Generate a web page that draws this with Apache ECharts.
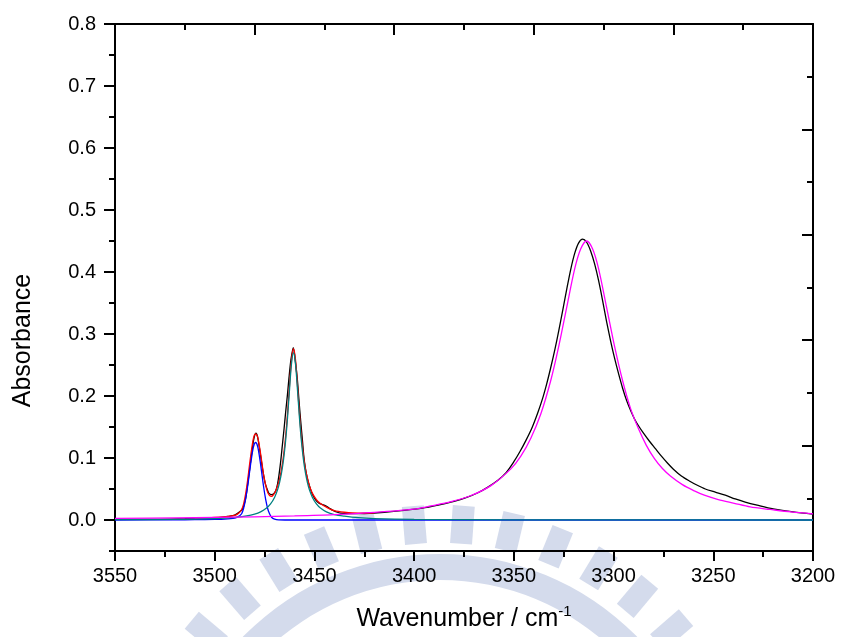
<!DOCTYPE html>
<html>
<head>
<meta charset="utf-8">
<script src="https://cdn.jsdelivr.net/npm/echarts@6/dist/echarts.min.js"></script>
<style>
  html, body { margin: 0; padding: 0; background: #fff; }
  #chart { width: 841px; height: 637px; }
</style>
</head>
<body>
<div id="chart"></div>
<script>
// measured spectrum (black)
const blackWn = [3550, 3530, 3515, 3505, 3497, 3493, 3490, 3488, 3486, 3484.5, 3483.5, 3482, 3481, 3480.3, 3479.3,
  3478.5, 3477.8, 3477, 3476.1, 3475.3, 3474.5, 3473.5, 3472.8, 3471.5, 3470.5, 3469.4, 3468.5, 3467.8, 3466.9,
  3466.1, 3465.2, 3464.4, 3463.5, 3462.8, 3461.8, 3460.6, 3459.6, 3458.6, 3457.8, 3456.9, 3456, 3455.3, 3454.5,
  3453.6, 3452.3, 3451.1, 3449.5, 3447.7, 3446, 3444.4, 3442.5, 3441, 3439, 3436.9, 3430, 3425, 3415, 3405, 3396,
  3388, 3380, 3374, 3368, 3363, 3358, 3354, 3350, 3347, 3344, 3341, 3338, 3335.5, 3333.5, 3331.5, 3329.5, 3327.5,
  3325.5, 3323.5, 3321.5, 3319.5, 3317.5, 3315.5, 3313.5, 3311.5, 3309.5, 3307.5, 3305.5, 3303.5, 3301.5, 3299.5,
  3297.5, 3295.5, 3293.5, 3291.5, 3289.5, 3287.5, 3285, 3282, 3279, 3276, 3273, 3270, 3266, 3262, 3258, 3254,
  3249, 3244, 3239, 3234, 3228, 3220, 3210, 3200]
const blackAbs = [0.001, 0.001, 0.002, 0.003, 0.004, 0.006, 0.008, 0.012, 0.018, 0.035, 0.057, 0.094, 0.118, 0.132, 0.140,
  0.134, 0.121, 0.104, 0.084, 0.069, 0.057, 0.048, 0.043, 0.041, 0.042, 0.047, 0.058, 0.072, 0.095,
  0.120, 0.148, 0.175, 0.203, 0.228, 0.258, 0.278, 0.257, 0.228, 0.195, 0.160, 0.128, 0.102, 0.083,
  0.068, 0.053, 0.042, 0.033, 0.027, 0.025, 0.023, 0.019, 0.016, 0.013, 0.011, 0.0102, 0.0105, 0.0125, 0.0155, 0.019,
  0.024, 0.030, 0.036, 0.044, 0.053, 0.064, 0.076, 0.094, 0.110, 0.128, 0.148, 0.173, 0.197, 0.220, 0.246, 0.274, 0.305,
  0.338, 0.372, 0.404, 0.430, 0.447, 0.453, 0.448, 0.434, 0.413, 0.386, 0.354, 0.320, 0.289, 0.261,
  0.236, 0.213, 0.193, 0.177, 0.163, 0.152, 0.140, 0.127, 0.115, 0.103, 0.092, 0.082, 0.071, 0.063, 0.056, 0.050,
  0.045, 0.040, 0.034, 0.029, 0.024, 0.018, 0.013, 0.0096]

// cumulative fit (red)
const fitWn = [3510, 3500, 3494, 3490, 3488, 3486.5, 3485.5, 3484.5, 3483.5, 3482.5, 3481.5, 3480.5, 3479.5, 3478.5,
  3477.5, 3476.5, 3475.5, 3474.5, 3473.5, 3472.5, 3471.5, 3470.5, 3469.5, 3468.5, 3467.5, 3466.5, 3465.5, 3464.5,
  3463.5, 3462.5, 3461.5, 3460.5, 3459.5, 3458.5, 3457.5, 3456.5, 3455.5, 3454.5, 3453.5, 3452.5, 3451, 3449,
  3447, 3444, 3440, 3435, 3428, 3420]
const fitAbs = [0.003, 0.004, 0.0055, 0.0075, 0.011, 0.017, 0.026, 0.042, 0.064, 0.090, 0.114, 0.133, 0.139, 0.134,
  0.117, 0.096, 0.073, 0.057, 0.045, 0.0395, 0.038, 0.041, 0.0465, 0.055, 0.066, 0.082, 0.1035, 0.133,
  0.171, 0.217, 0.258, 0.2765, 0.2587, 0.217, 0.171, 0.133, 0.104, 0.082, 0.067, 0.055, 0.043, 0.033,
  0.0265, 0.0207, 0.015, 0.0125, 0.011, 0.0115]

// component at ~3479 (blue)
const peak1Wn = [3550, 3520, 3510, 3500, 3495, 3490, 3488.5, 3487.5, 3486.5, 3485.5, 3484.5, 3483.5, 3482.5, 3481.5,
  3480.5, 3479.5, 3478.5, 3477.5, 3476.5, 3475.5, 3474.5, 3473.5, 3472.5, 3471.5, 3470, 3468, 3460, 3400, 3300, 3200]
const peak1Abs = [0, 0.0003, 0.0005, 0.001, 0.0015, 0.003, 0.005, 0.007, 0.010, 0.019, 0.034, 0.054, 0.078, 0.101,
  0.119, 0.125, 0.119, 0.101, 0.078, 0.054, 0.034, 0.019, 0.010, 0.0045, 0.0015, 0.0003, 0, 0, 0, 0]

// component at ~3461 (teal)
const peak2Wn = [3550, 3520, 3500, 3490, 3484, 3480, 3477, 3474, 3472, 3470, 3468.5, 3467.5, 3466.5, 3465.5, 3464.5,
  3463.5, 3462.5, 3461.5, 3460.5, 3459.5, 3458.5, 3457.5, 3456.5, 3455.5, 3454.5, 3453.5, 3452.5, 3451, 3449, 3447,
  3444, 3440, 3435, 3428, 3420, 3400, 3350, 3300, 3200]
const peak2Abs = [0.0005, 0.0011, 0.0024, 0.0043, 0.0068, 0.0096, 0.0132, 0.0193, 0.026, 0.0364, 0.0486, 0.0603, 0.0758, 0.0972, 0.1263,
  0.1646, 0.2103, 0.252, 0.270, 0.252, 0.2103, 0.1646, 0.1263, 0.0972, 0.0758, 0.0603, 0.0486, 0.0364, 0.026, 0.0193,
  0.0132, 0.0088, 0.0062, 0.0037, 0.0023, 0.0010, 0.0003, 0.0001, 0]

// broad component at ~3313 (magenta)
const peak3Wn = [3550, 3520, 3500, 3480, 3460, 3440, 3420, 3400, 3391.5, 3381.5, 3371.5, 3361.5, 3351.5, 3346.5,
  3341.5, 3336.5, 3331.5, 3327.5, 3323.5, 3319.5, 3316.5, 3313.5, 3310.5, 3307.5, 3303.5, 3299.5, 3295.5, 3291.5,
  3287.5, 3283.5, 3279.5, 3275.5, 3271.5, 3265.5, 3259.5, 3254.5, 3247.5, 3239.5, 3231.5, 3221.5, 3211, 3200]
const peak3Abs = [0.0026, 0.0033, 0.0041, 0.0051, 0.0066, 0.0087, 0.0122, 0.0175, 0.0227, 0.0295, 0.0395, 0.0555, 0.0825, 0.103,
  0.132, 0.171, 0.225, 0.280, 0.343, 0.405, 0.437, 0.450, 0.437, 0.405, 0.343, 0.280, 0.225, 0.180,
  0.147, 0.120, 0.099, 0.083, 0.071, 0.057, 0.047, 0.040, 0.033, 0.027, 0.021, 0.017, 0.013, 0.0098]

const yMajorTicks = [0, 0.1, 0.2, 0.3, 0.4, 0.5, 0.6, 0.7, 0.8]

const FONT = '"Liberation Sans", Arial, sans-serif'
const pairs = (xs, ys) => xs.map((x, i) => [x, ys[i]])

// faint background watermark (part of a round seal behind the bottom of the plot)
const WM = '#d4dbec'
const wmCx = 440, wmCy = 830
const wmTeeth = [-49.8, -40.8, -31.8, -22.8, -13.8, -4.8, 4.2, 13.2, 22.2, 31.2, 40.2, 49.2]
const tooth = (deg) => {
  const a = deg * Math.PI / 180
  const dx = Math.sin(a), dy = -Math.cos(a), px = Math.cos(a), py = Math.sin(a)
  const r1 = 287, r2 = 325, w = 11
  const pt = (r, s) => [wmCx + dx * r + px * s, wmCy + dy * r + py * s]
  return {
    type: 'polygon', silent: true, z: -10,
    shape: { points: [pt(r1, -w), pt(r2, -w), pt(r2, w), pt(r1, w)] },
    style: { fill: WM },
  }
}
const watermark = [
  { type: 'ring', silent: true, z: -10, shape: { cx: wmCx, cy: wmCy, r: 276, r0: 250 }, style: { fill: WM } },
  ...wmTeeth.map(tooth),
]

const chart = echarts.init(document.getElementById('chart'))

const axisLine = { show: true, onZero: false, lineStyle: { color: '#000', width: 2 } }

const mkSeries = (name, xs, ys, color) => ({
  name,
  type: 'line',
  data: pairs(xs, ys),
  xAxisIndex: 0,
  yAxisIndex: 0,
  symbol: 'none',
  smooth: 0.3,
  lineStyle: { color, width: 1.3 },
  itemStyle: { color },
  emphasis: { disabled: true },
})

chart.setOption({
  animation: false,
  backgroundColor: '#fff',
  graphic: watermark,
  grid: { left: 115, right: 28, top: 24, bottom: 84 },
  xAxis: [
    {
      type: 'value',
      position: 'bottom',
      min: 3200,
      max: 3550,
      interval: 50,
      inverse: true,
      name: 'Wavenumber / cm{sup|-1}',
      nameLocation: 'middle',
      nameGap: 53,
      nameTextStyle: {
        fontFamily: FONT, fontSize: 25, color: '#000',
        rich: { sup: { fontFamily: FONT, fontSize: 15, color: '#000', padding: [0, 0, 16, 0] } },
      },
      axisLine,
      axisTick: { show: true, inside: false, length: 10, lineStyle: { color: '#000', width: 2 } },
      minorTick: { show: true, splitNumber: 2, length: 6, lineStyle: { color: '#000', width: 2 } },
      axisLabel: { fontFamily: FONT, fontSize: 20, color: '#000', margin: 15, formatter: (v) => String(v) },
      splitLine: { show: false },
    },
    {
      type: 'value',
      position: 'top',
      min: 0,
      max: 5,
      interval: 1,
      axisLine,
      axisTick: { show: true, inside: true, length: 11, lineStyle: { color: '#000', width: 2 } },
      minorTick: { show: true, splitNumber: 2, length: 6, lineStyle: { color: '#000', width: 2 } },
      axisLabel: { show: false },
      splitLine: { show: false },
    },
  ],
  yAxis: [
    {
      type: 'value',
      position: 'left',
      min: -0.05,
      max: 0.8,
      interval: 0.05,
      name: 'Absorbance',
      nameLocation: 'middle',
      nameGap: 79,
      nameTextStyle: { fontFamily: FONT, fontSize: 25, color: '#000', padding: [0, 106, 0, 0] },
      axisLine,
      axisTick: { show: true, inside: false, length: 6, lineStyle: { color: '#000', width: 2 } },
      axisLabel: {
        fontFamily: FONT, fontSize: 20, color: '#000', margin: 19,
        formatter: (v) => (Math.abs(v * 10 - Math.round(v * 10)) < 1e-6 ? v.toFixed(1) : ''),
      },
      splitLine: { show: false },
    },
    {
      type: 'value',
      position: 'right',
      min: 0,
      max: 5,
      interval: 1,
      axisLine,
      axisTick: { show: true, inside: true, length: 11, lineStyle: { color: '#000', width: 2 } },
      minorTick: { show: true, splitNumber: 2, length: 6, lineStyle: { color: '#000', width: 2 } },
      axisLabel: { show: false },
      splitLine: { show: false },
    },
    {
      // longer major ticks on the left axis
      type: 'value',
      position: 'left',
      min: -0.05,
      max: 0.8,
      axisLine: { show: false, onZero: false },
      axisTick: { show: true, inside: false, length: 11, customValues: yMajorTicks, lineStyle: { color: '#000', width: 2 } },
      axisLabel: { show: false },
      splitLine: { show: false },
    },
  ],
  series: [
    mkSeries('Measured', blackWn, blackAbs, '#000000'),
    mkSeries('Fit', fitWn, fitAbs, '#ff0000'),
    mkSeries('Peak 1', peak1Wn, peak1Abs, '#0000ff'),
    mkSeries('Peak 2', peak2Wn, peak2Abs, '#008080'),
    mkSeries('Peak 3', peak3Wn, peak3Abs, '#ff00ff'),
  ],
})
</script>
</body>
</html>
